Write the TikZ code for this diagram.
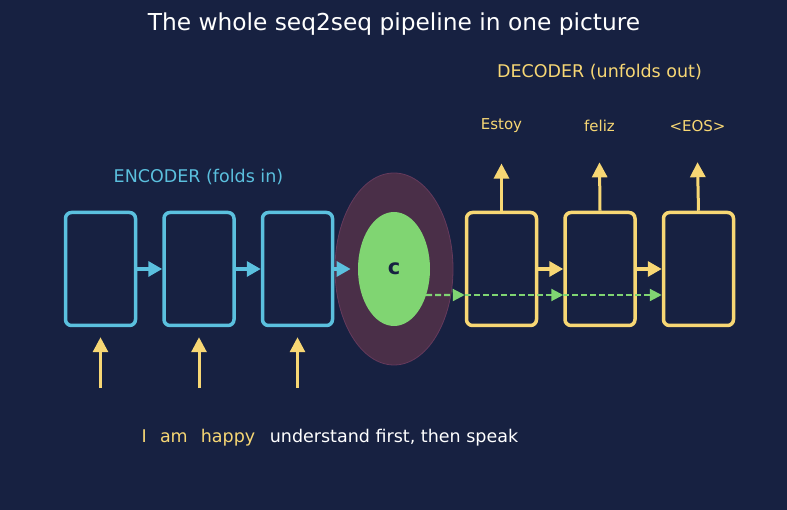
\documentclass[tikz,border=0pt]{standalone}
\usepackage{fontspec}
\setmainfont{DejaVu Sans}
\usetikzlibrary{arrows.meta,positioning,shapes.geometric}
\definecolor{bgnavy}{HTML}{172141}
\definecolor{enccyan}{HTML}{5BC0DE}
\definecolor{decyellow}{HTML}{F7D774}
\definecolor{ctxgreen}{HTML}{80D572}
\definecolor{ringmaroon}{HTML}{4A2F48}
\definecolor{ringedge}{HTML}{653A5C}

\begin{document}
\begin{tikzpicture}[
    x=1pt, y=1pt,
    node distance=25pt,
    cell/.style={rectangle, rounded corners=6pt, line width=3.5pt, minimum width=70pt, minimum height=113pt, inner sep=0pt},
    enccell/.style={cell, draw=enccyan},
    deccell/.style={cell, draw=decyellow},
    hop/.style={-{Triangle[length=14pt,width=15pt]}, line width=3.2pt},
    feed/.style={-{Triangle[length=15pt,width=15pt]}, line width=3pt, decyellow},
    carry/.style={-{Triangle[length=12pt,width=12pt]}, line width=2.2pt, ctxgreen, dash pattern=on 6pt off 3pt},
    word/.style={font=\fontsize{15}{18}\selectfont, text=decyellow}
]
    \fill[bgnavy] (0,0) rectangle (787,510);
    \useasboundingbox (0,0) rectangle (787,510);

    \node[text=white, font=\fontsize{23.3}{28}\selectfont] (title) at (394,486) {The whole seq2seq pipeline in one picture};

    % encoder
    \node[enccell] (e1) at (100.5,241) {};
    \node[enccell, right=of e1] (e2) {};
    \node[enccell, right=of e2] (e3) {};
    \node[text=enccyan, font=\fontsize{17.5}{21}\selectfont] (enclabel) at (198.5,333) {ENCODER (folds in)};

    % context vector
    \node[ellipse, fill=ringmaroon, draw=ringedge, line width=0.8pt, minimum width=118pt, minimum height=192pt] (ring) at (394,241) {};
    \node[ellipse, fill=ctxgreen, minimum width=72pt, minimum height=114pt, font=\bfseries\fontsize{21}{24}\selectfont, text=bgnavy] (ctx) at (394,241) {c};

    % decoder
    \node[deccell] (d1) at (501.5,241) {};
    \node[deccell, right=of d1] (d2) {};
    \node[deccell, right=of d2] (d3) {};
    \node[text=decyellow, font=\fontsize{17.5}{21}\selectfont] (declabel) at (599.5,438) {DECODER (unfolds out)};

    \node[word] (w1) at (501.5,384) {Estoy};
    \node[word] (w2) at (599.5,384) {feliz};
    \node[word] (w3) at (697.5,384) {\textless{}EOS\textgreater{}};

    % inputs
    \coordinate[below=61pt of e1.south] (x1);
    \coordinate[below=61pt of e2.south] (x2);
    \coordinate[below=61pt of e3.south] (x3);
    \draw[feed, shorten >=10pt] (x1) -- (e1.south);
    \draw[feed, shorten >=10pt] (x2) -- (e2.south);
    \draw[feed, shorten >=10pt] (x3) -- (e3.south);

    % encoder hops
    \draw[hop, enccyan] (e1) -- (e2);
    \draw[hop, enccyan] (e2) -- (e3);
    \draw[hop, enccyan] (e3.east) -- ([xshift=16pt]ring.west);

    % decoder hops and outputs
    \draw[hop, decyellow] (d1) -- (d2);
    \draw[hop, decyellow] (d2) -- (d3);
    \draw[feed] (d1.north) -- ([yshift=-27pt]w1.south);
    \draw[feed] (d2.north) -- ([yshift=-27pt]w2.south);
    \draw[feed] (d3.north) -- ([yshift=-27pt]w3.south);

    % c fed to every step
    \draw[carry] (ctx.-39) -- ([yshift=-26pt]d1.west);
    \draw[carry] ([yshift=-26pt]d1.west) -- ([yshift=-26pt]d2.west);
    \draw[carry] ([yshift=-26pt]d2.west) -- ([yshift=-26pt]d3.west);

    \node[text=decyellow, font=\fontsize{17.5}{21}\selectfont] (tokens) at (198.5,72) {I\hspace{0.75em}am\hspace{0.75em}happy};
    \node[text=white, font=\fontsize{17.5}{21}\selectfont] (motto) at (394,72) {understand first, then speak};
\end{tikzpicture}
\end{document}
